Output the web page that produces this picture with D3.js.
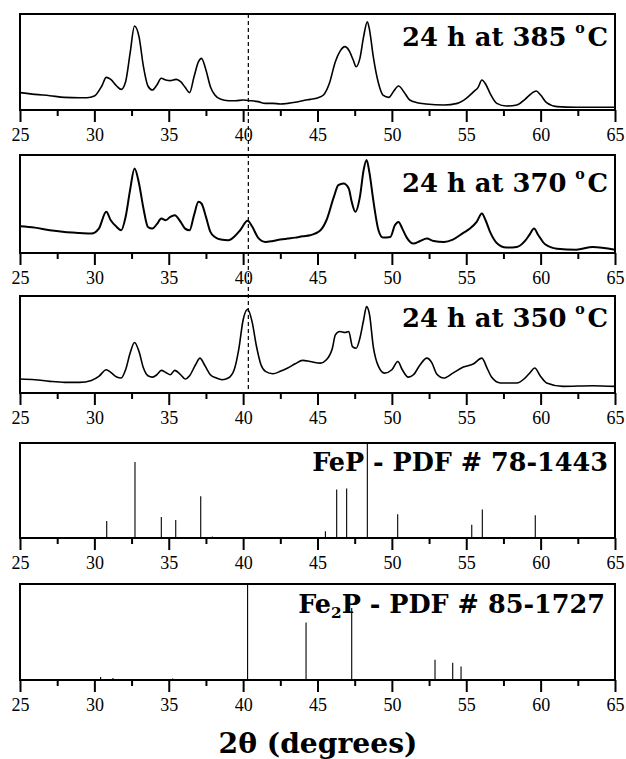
<!DOCTYPE html>
<html><head><meta charset="utf-8">
<script src="https://cdn.jsdelivr.net/npm/d3@7"></script>
<style>body{margin:0;background:#fff}svg{display:block}</style>
</head><body>
<svg id="c" width="626" height="759"></svg>
<script>
// ---------- data ----------
const xTicks = [25, 30, 35, 40, 45, 50, 55, 60, 65];
const xMinorTicks = [27.5, 32.5, 37.5, 42.5, 47.5, 52.5, 57.5, 62.5];
const refLine = 40.35;

// 24 h at 385 °C : [2theta, relative intensity]
const pattern385 = [[25,18.1],[26,16.3],[27,14.9],[28,13.2],[29,12.8],[29.5,12.8],[30,14.6],[30.5,25.0],[30.8,34.0],[31.1,31.9],[31.5,25.0],[31.8,21.5],[32.1,29.5],[32.4,59.0],[32.7,87.5],[33.0,76.4],[33.3,45.1],[33.6,25.0],[33.9,20.8],[34.2,26.0],[34.5,33.0],[34.8,31.3],[35.1,30.6],[35.5,31.9],[35.8,29.5],[36.1,23.6],[36.4,18.1],[36.7,34.7],[37.0,50.3],[37.2,53.8],[37.5,41.7],[37.8,24.3],[38.1,15.6],[38.5,11.1],[39,9.7],[39.5,9.7],[40,10.4],[40.5,9.7],[41,8.7],[41.5,6.9],[42,6.9],[42.5,6.3],[43,6.9],[43.5,8.0],[44,9.7],[44.5,11.1],[45,12.5],[45.4,15.6],[45.8,27.8],[46.2,50.3],[46.5,60.8],[46.85,66.0],[47.1,62.5],[47.4,52.1],[47.6,45.1],[47.85,53.8],[48.1,76.4],[48.35,92.0],[48.5,83.3],[48.75,55.6],[49.1,27.8],[49.4,15.6],[49.8,13.2],[50.1,19.1],[50.45,25.0],[50.8,19.1],[51.2,10.4],[51.7,7.6],[52.3,6.3],[53.5,5.2],[54.4,6.9],[55.0,12.2],[55.5,19.1],[55.8,23.6],[56.05,31.3],[56.3,27.1],[56.6,17.4],[57.05,6.9],[57.7,4.2],[58.4,5.2],[58.95,11.1],[59.4,17.4],[59.7,19.8],[60.0,15.6],[60.4,7.6],[61.1,3.5],[62.4,2.8],[63.8,2.8],[65,2.8]];

// 24 h at 370 °C
const pattern370 = [[25,27.3],[26,25.9],[27,23.2],[28,21.5],[29,20.5],[29.8,19.8],[30.3,24.9],[30.8,42.0],[31.1,33.4],[31.5,26.6],[31.8,23.2],[32.1,36.9],[32.4,64.2],[32.7,86.3],[33.0,71.0],[33.3,45.4],[33.6,26.6],[33.9,24.9],[34.2,29.4],[34.5,35.2],[34.8,33.4],[35.1,36.9],[35.4,38.6],[35.8,31.7],[36.1,24.9],[36.4,23.2],[36.7,38.6],[37.0,52.2],[37.2,50.5],[37.5,36.9],[37.8,21.5],[38.1,16.4],[38.5,13.7],[39,13.0],[39.5,18.1],[39.8,23.2],[40.3,32.8],[40.6,27.3],[41,15.7],[41.5,11.3],[42,12.3],[42.5,13.7],[43,14.7],[43.5,15.7],[44,17.1],[44.5,18.1],[45.2,23.2],[45.6,33.4],[46.1,57.3],[46.4,69.3],[46.75,71.0],[47.1,65.9],[47.3,52.2],[47.55,42.0],[47.85,57.3],[48.1,84.6],[48.3,94.9],[48.5,81.2],[48.75,53.9],[49.1,23.2],[49.4,15.7],[49.9,16.4],[50.2,28.3],[50.45,31.7],[50.7,24.9],[51.0,15.7],[51.45,9.6],[51.9,12.3],[52.35,14.7],[52.8,12.3],[53.5,11.3],[54.1,13.7],[54.8,20.5],[55.25,24.9],[55.7,31.7],[56.05,40.3],[56.3,33.4],[56.6,21.5],[57.05,10.2],[57.7,5.5],[58.4,6.1],[58.95,12.3],[59.3,19.8],[59.55,24.9],[59.85,18.1],[60.3,8.9],[61.1,4.4],[62.4,3.4],[63.5,6.1],[65,3.4]];

// 24 h at 350 °C
const pattern350 = [[25,14.4],[26,13.7],[27,12.0],[28,11.0],[29,11.0],[29.8,13.0],[30.3,17.1],[30.8,24.0],[31.1,21.2],[31.5,16.4],[31.8,15.4],[32.1,24.0],[32.4,41.1],[32.7,52.1],[33.0,42.8],[33.3,25.7],[33.6,17.8],[33.9,16.4],[34.2,18.8],[34.5,23.3],[34.8,21.2],[35.1,18.8],[35.4,23.3],[35.8,18.8],[36.1,14.4],[36.4,17.8],[36.8,29.1],[37.1,36.0],[37.4,29.1],[37.8,18.8],[38.2,15.4],[38.6,13.7],[39.0,15.4],[39.4,24.0],[39.7,44.5],[40.0,75.3],[40.3,86.3],[40.6,73.6],[40.9,47.9],[41.2,29.1],[41.5,22.3],[42,19.9],[42.5,22.3],[43,25.7],[43.5,30.1],[44,33.6],[44.5,32.5],[45.2,30.8],[45.6,34.2],[46.0,46.2],[46.2,59.9],[46.5,63.4],[46.85,62.3],[47.1,63.4],[47.35,47.9],[47.6,46.2],[47.85,56.5],[48.1,75.3],[48.3,89.0],[48.5,80.5],[48.75,47.9],[49.1,27.4],[49.5,20.5],[50.0,24.0],[50.4,32.5],[50.7,24.0],[51.1,16.4],[51.45,18.8],[51.9,29.1],[52.35,36.0],[52.7,30.8],[53.0,19.9],[53.5,15.4],[54.1,20.5],[54.8,26.7],[55.5,30.1],[56.05,36.0],[56.4,25.7],[56.7,16.4],[57.3,10.3],[58.4,10.3],[58.95,15.4],[59.3,21.2],[59.6,25.7],[60.0,17.1],[60.4,10.3],[61.5,6.8],[63.5,7.5],[65,6.8]];

// reference stick patterns
const fepPositions   = [30.83, 32.73, 34.50, 35.47, 37.15, 37.93, 45.53, 46.29, 46.96, 48.35, 50.39, 55.37, 56.08, 59.10, 59.64, 63.57];
const fepIntensities = [18, 80, 22, 19, 44, 1.5, 7, 51, 52, 100, 25, 14, 30, 1, 24, 1];
const fe2pPositions   = [25.7, 30.42, 31.25, 35.26, 40.30, 44.23, 47.30, 52.90, 54.09, 54.65];
const fe2pIntensities = [0.8, 3, 2, 1.5, 100, 60, 75, 21, 18, 14];

const panelTitles = ["24 h at 385 ", "24 h at 370 ", "24 h at 350 "];
const fepTitle = "FeP - PDF # 78-1443";
const fe2pTitle = ["Fe", "2", "P - PDF # 85-1727"];
const xAxisTitle = "2θ (degrees)";

// ---------- layout ----------
const svg = d3.select("#c");
const left = 20, right = 615;
const panels = [
  {top: 14,  bottom: 110},
  {top: 155, bottom: 253},
  {top: 296, bottom: 393},
  {top: 443, bottom: 538},
  {top: 584, bottom: 680}
];
const x = d3.scaleLinear().domain([25, 65]).range([left, right]);

function fitText(sel, target) {
  const w = sel.node().getBBox().width;
  const fs = parseFloat(sel.attr("font-size"));
  sel.attr("font-size", fs * target / w);
}

panels.forEach(p => {
  p.y = d3.scaleLinear().domain([0, 100]).range([p.bottom, p.top]);
  p.g = svg.append("g");
});

// patterns
const patterns = [pattern385, pattern370, pattern350];
const widths = [1.6, 2.0, 1.6];
patterns.forEach((data, i) => {
  const p = panels[i];
  const line = d3.line().x(d => x(d[0])).y(d => p.y(d[1])).curve(d3.curveMonotoneX);
  p.g.append("path").attr("d", line(data)).attr("fill", "none")
    .attr("stroke", "#000").attr("stroke-width", widths[i])
    .attr("stroke-linejoin", "round");
});

// sticks
function sticks(p, pos, ints) {
  p.g.selectAll(null).data(d3.zip(pos, ints)).join("line")
    .attr("x1", d => x(d[0])).attr("x2", d => x(d[0]))
    .attr("y1", p.y(0)).attr("y2", d => p.y(d[1]))
    .attr("stroke", "#000").attr("stroke-width", 1.1);
}
sticks(panels[3], fepPositions, fepIntensities);
sticks(panels[4], fe2pPositions, fe2pIntensities);

// frames & axes
panels.forEach(p => {
  p.g.append("rect").attr("x", left).attr("y", p.top)
    .attr("width", right - left).attr("height", p.bottom - p.top)
    .attr("fill", "none").attr("stroke", "#000").attr("stroke-width", 2);
  const ax = p.g.append("g").attr("transform", `translate(0,${p.bottom})`)
    .call(d3.axisBottom(x).tickValues(xTicks).tickSize(12).tickPadding(6).tickFormat(d3.format("d")));
  ax.select(".domain").remove();
  ax.selectAll(".tick line").attr("stroke-width", 2);
  ax.selectAll(".tick text").attr("font-family", "'Liberation Serif', 'Times New Roman', serif")
    .attr("font-size", 18).attr("fill", "#000");
  const axm = p.g.append("g").attr("transform", `translate(0,${p.bottom})`)
    .call(d3.axisBottom(x).tickValues(xMinorTicks).tickSize(6).tickFormat(""));
  axm.select(".domain").remove();
  axm.selectAll(".tick line").attr("stroke-width", 2);
});

// dashed reference line
svg.append("line").attr("x1", x(refLine)).attr("x2", x(refLine))
  .attr("y1", panels[0].top).attr("y2", panels[2].bottom)
  .attr("stroke", "#000").attr("stroke-width", 1.2).attr("stroke-dasharray", "4,3");

// titles
const bold = "'DejaVu Serif', serif";
const titleBase = [46, 192, 327];
panelTitles.forEach((t, i) => {
  const tx = svg.append("text").attr("x", 608).attr("y", titleBase[i])
    .attr("text-anchor", "end").attr("font-family", bold).attr("font-weight", "bold")
    .attr("font-size", 24).attr("fill", "#000");
  tx.append("tspan").text(t);
  tx.append("tspan").text("o").attr("font-size", "0.55em").attr("dy", "-0.9em");
  tx.append("tspan").text("C").attr("dy", "0.5em").attr("dx", "0.1em");
  fitText(tx, 206);
});
const fepT = svg.append("text").attr("x", 608).attr("y", 471)
  .attr("text-anchor", "end").attr("font-family", bold).attr("font-weight", "bold")
  .attr("font-size", 24).attr("fill", "#000").text(fepTitle);
fitText(fepT, 296);
const fe2pT = svg.append("text").attr("x", 605).attr("y", 613)
  .attr("text-anchor", "end").attr("font-family", bold).attr("font-weight", "bold")
  .attr("font-size", 24).attr("fill", "#000");
fe2pT.append("tspan").text(fe2pTitle[0]);
fe2pT.append("tspan").text(fe2pTitle[1]).attr("font-size", "0.6em").attr("dy", "0.35em");
fe2pT.append("tspan").text(fe2pTitle[2]).attr("dy", "-0.2em");
fitText(fe2pT, 307);

const xt = svg.append("text").attr("x", 318).attr("y", 753).attr("text-anchor", "middle")
  .attr("font-family", bold).attr("font-weight", "bold").attr("font-size", 28)
  .attr("fill", "#000").text(xAxisTitle);
fitText(xt, 199);
</script>
</body></html>
